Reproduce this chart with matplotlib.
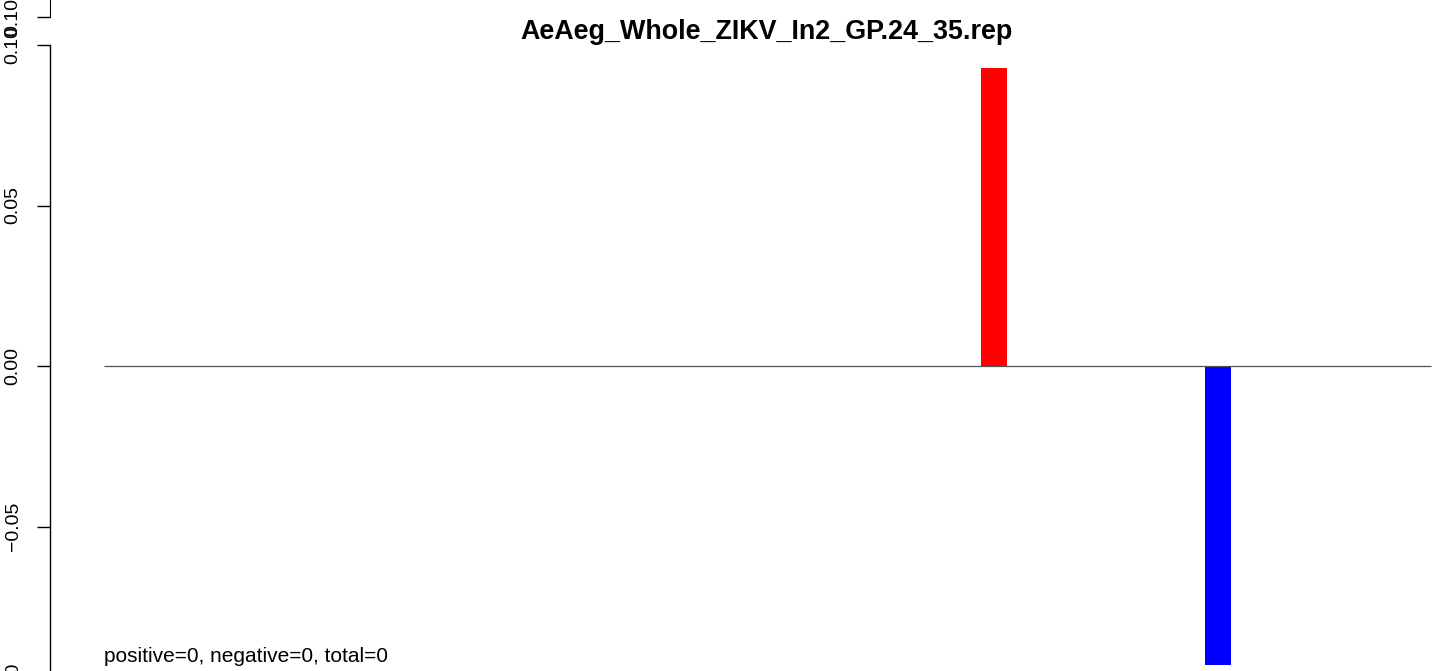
import matplotlib
matplotlib.use("Agg")
import matplotlib.pyplot as plt
import matplotlib.transforms as mtransforms

plt.rcParams['font.family'] = ['Liberation Sans', 'DejaVu Sans']

# Donnees
titre = "AeAeg_Whole_ZIKV_In2_GP.24_35.rep"
positions = [67.9, 84.0]          # position des barres (echelle 0-100)
valeurs = [0.0928, -0.0931]       # hauteur des barres
couleurs = ['#ff0000', '#0000ff']
largeur = 1.87
ligne_debut, ligne_fin = 3.9, 99.3
y_ticks = [-0.05, 0.00, 0.05, 0.10]
y_labels = ["\u22120.05", "0.00", "0.05", "0.10"]
texte_bas = "positive=0, negative=0, total=0"

W, H = 1441, 671
fig = plt.figure(figsize=(W / 100, H / 100), dpi=100)

# axe principal
ax = fig.add_axes([50 / W, 0, 1 - 50 / W, 1])
ax.bar(positions, valeurs, largeur, color=couleurs)
ax.hlines(0, ligne_debut, ligne_fin, color='#555555', lw=0.9)
for s in ['top', 'right', 'bottom']:
    ax.spines[s].set_visible(False)
ax.spines['left'].set_bounds(-0.2, 0.10)
ax.spines['left'].set_linewidth(1.0)
ax.set_xticks([])
ax.set_yticks(y_ticks)
ax.set_yticklabels(y_labels, rotation=90, va='center', fontsize=14)
ax.tick_params(axis='y', length=9.5, width=1.0, pad=11)
ax.set_xlim(0, 100)
ax.set_ylim((366 - H) / 3210, 366 / 3210)

# etiquette -0.10 coupee par le bord du bas
trans = mtransforms.offset_copy(ax.get_yaxis_transform(), fig=fig, x=-20.5, y=0,
                                units='points')
ax.text(0, -0.10, "\u22120.10", transform=trans, rotation=90, fontsize=14,
        ha='right', va='center', clip_on=False)

ax.text(ligne_debut, -0.0922, texte_bas, fontsize=15, ha='left', va='baseline')
ax.text((767 - 50) / (W - 50) * 100, (366 - 32) / 3210, titre, fontsize=19.4,
        fontweight='bold', ha='center', va='center')

# morceau d'axe au-dessus (autre panneau)
ax2 = fig.add_axes([50 / W, 1 - 17 / H, 0.01, 17 / H])
for s in ['top', 'right', 'bottom']:
    ax2.spines[s].set_visible(False)
ax2.patch.set_alpha(0)
ax2.set_xticks([])
ax2.set_yticks([0.10])
ax2.set_yticklabels(["0.10"], rotation=90, va='center', fontsize=14)
ax2.tick_params(axis='y', length=9.5, width=1.0, pad=11)
ax2.set_ylim(0.10, 0.11)

fig.savefig("out.png", dpi=100)
